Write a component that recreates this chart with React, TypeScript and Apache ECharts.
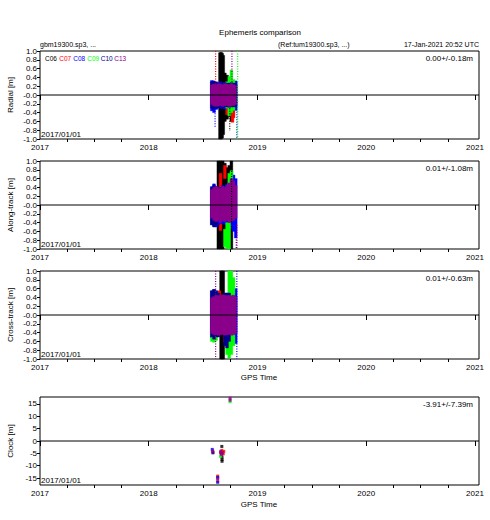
import React, { useEffect, useRef } from 'react';
import * as echarts from 'echarts';

// ---------- axis ticks ----------
const yearTicks = [2017, 2018, 2019, 2020, 2021];
const quarterTicks = [2017.25, 2017.5, 2017.75, 2018.25, 2018.5, 2018.75, 2019.25, 2019.5, 2019.75, 2020.25, 2020.5, 2020.75];
const clockTicks = [-15, -10, -5, 0, 5, 10, 15];

const satNames = ['C06', 'C07', 'C08', 'C09', 'C10', 'C13'];
const satColors = ['#000000', '#ff0000', '#0000ff', '#00ff00', '#00008b', '#8b008b'];

const panelNames = ['Radial [m]', 'Along-track [m]', 'Cross-track [m]', 'Clock [m]'];
const panelStats = ['0.00+/-0.18m', '0.01+/-1.08m', '0.01+/-0.63m', '-3.91+/-7.39m'];

// ---------- Radial: [time(yr), low, high] ----------
const radialC06 = [[2018.655, -1.0, 0.96], [2018.665, -1.0, 0.97], [2018.675, -0.98, 0.95], [2018.685, -0.9, 0.9], [2018.70, -0.6, 0.5], [2018.72, -0.55, 0.45], [2018.74, -0.5, 0.33], [2018.76, -0.6, 0.3]];
const radialC07 = [[2018.72, -0.45, 0.2], [2018.77, -0.62, 0.2], [2018.78, -0.52, 0.2]];
const radialC08 = [[2018.58, -0.36, 0.33], [2018.60, -0.4, 0.32], [2018.62, -0.33, 0.3], [2018.64, -0.3, 0.28], [2018.66, -0.3, 0.3], [2018.68, -0.3, 0.28], [2018.70, -0.32, 0.28], [2018.72, -0.3, 0.3], [2018.74, -0.32, 0.28], [2018.76, -0.3, 0.3], [2018.78, -0.3, 0.3], [2018.80, -0.35, 0.32]];
const radialC09 = [[2018.72, -0.3, 0.3], [2018.74, -0.48, 0.42], [2018.76, -0.4, 0.57], [2018.78, -0.35, 0.35]];
const radialC10 = [[2018.58, -0.3, 0.3], [2018.60, -0.32, 0.3], [2018.62, -0.3, 0.28], [2018.64, -0.28, 0.27], [2018.66, -0.27, 0.27], [2018.68, -0.28, 0.27], [2018.70, -0.27, 0.28], [2018.72, -0.27, 0.27], [2018.74, -0.28, 0.27], [2018.76, -0.27, 0.28], [2018.78, -0.27, 0.27], [2018.80, -0.26, 0.26]];
const radialC13 = [[2018.58, -0.22, 0.23], [2018.60, -0.25, 0.25], [2018.62, -0.26, 0.24], [2018.64, -0.25, 0.26], [2018.66, -0.24, 0.25], [2018.68, -0.26, 0.24], [2018.70, -0.25, 0.26], [2018.72, -0.24, 0.25], [2018.74, -0.26, 0.24], [2018.76, -0.25, 0.26], [2018.78, -0.24, 0.24], [2018.80, -0.22, 0.22]];
// sparse dotted spikes: [sat, time, low, high]
const radialDots = [['C07', 2018.615, 0.25, 1.0], ['C08', 2018.61, -0.75, -0.3], ['C08', 2018.81, -1.0, 0.3], ['C09', 2018.818, -1.0, 1.0], ['C13', 2018.765, 0.25, 1.0], ['C06', 2018.745, -0.82, -0.3]];

// ---------- Along-track ----------
const alongC06 = [[2018.64, -1.0, 1.0], [2018.66, -1.0, 1.0], [2018.68, -1.0, 1.0], [2018.70, -0.9, 0.95], [2018.72, -0.8, 0.85], [2018.74, -0.9, 0.9], [2018.76, -1.0, 1.0]];
const alongC07 = [[2018.66, 0.4, 0.72], [2018.66, -0.58, -0.3], [2018.70, 0.6, 0.9]];
const alongC08 = [[2018.58, -0.45, 0.42], [2018.60, -0.48, 0.48], [2018.62, -0.5, 0.42], [2018.64, -0.45, 0.4], [2018.66, -0.42, 0.4], [2018.68, -0.42, 0.44], [2018.70, -0.44, 0.42], [2018.72, -0.45, 0.48], [2018.74, -0.5, 0.5], [2018.76, -0.55, 0.62], [2018.78, -0.6, 0.68], [2018.80, -0.75, 0.6]];
const alongC09 = [[2018.70, -0.95, -0.55], [2018.72, -0.98, -0.4], [2018.74, -1.0, -0.4], [2018.74, 0.38, 0.72], [2018.76, 0.4, 0.78]];
const alongC10 = [[2018.58, -0.45, 0.4], [2018.60, -0.5, 0.45], [2018.62, -0.45, 0.4]];
const alongC13 = [[2018.58, -0.3, 0.35], [2018.60, -0.35, 0.4], [2018.62, -0.38, 0.42], [2018.64, -0.35, 0.4], [2018.66, -0.4, 0.38], [2018.68, -0.36, 0.42], [2018.70, -0.38, 0.4], [2018.72, -0.35, 0.45], [2018.74, -0.4, 0.5], [2018.76, -0.38, 0.6], [2018.78, -0.35, 0.55], [2018.80, -0.3, 0.45]];
const alongDots = [['C07', 2018.812, -1.0, -0.45], ['C08', 2018.805, -1.0, -0.5], ['C06', 2018.762, -1.0, 1.0]];

// ---------- Cross-track ----------
const crossC06 = [[2018.665, -1.0, 1.0], [2018.675, -1.0, 1.0], [2018.685, -1.0, 1.0]];
const crossC07 = [[2018.65, 0.45, 0.55], [2018.70, -0.62, -0.45]];
const crossC08 = [[2018.58, -0.52, 0.55], [2018.60, -0.55, 0.58], [2018.62, -0.5, 0.55], [2018.78, -0.6, 0.55], [2018.80, -0.65, 0.6]];
const crossC09 = [[2018.58, -0.6, -0.3], [2018.60, -0.62, -0.3], [2018.62, -0.58, -0.3], [2018.72, -0.9, 0.5], [2018.74, -0.98, 1.0], [2018.76, -0.9, 1.0], [2018.78, -0.7, 0.85]];
const crossC10 = [[2018.58, -0.5, 0.55], [2018.60, -0.55, 0.58], [2018.62, -0.5, 0.55], [2018.64, -0.5, 0.5], [2018.70, -0.7, 0.5], [2018.72, -0.75, 0.5], [2018.74, -0.6, 0.5]];
const crossC13 = [[2018.58, -0.42, 0.4], [2018.60, -0.45, 0.42], [2018.62, -0.45, 0.45], [2018.64, -0.46, 0.44], [2018.66, -0.45, 0.45], [2018.68, -0.44, 0.46], [2018.70, -0.46, 0.45], [2018.72, -0.45, 0.44], [2018.74, -0.44, 0.45], [2018.76, -0.46, 0.44], [2018.78, -0.45, 0.45], [2018.80, -0.42, 0.42]];
const crossDots = [['C13', 2018.615, -1.0, 1.0], ['C08', 2018.81, -1.0, 1.0]];

// ---------- Clock: [time, value] ----------
const clockC06 = [[2018.672, -2.2], [2018.674, -6.5], [2018.674, -7.5], [2018.674, -8.2]];
const clockC07 = [[2018.59, -4.5], [2018.672, -3.8], [2018.68, -4.5], [2018.685, -5.2], [2018.66, -4.6], [2018.668, -5.6], [2018.69, -4.2], [2018.634, -14.2], [2018.634, -16.2]];
const clockC08 = [[2018.584, -3.4], [2018.634, -14.7], [2018.634, -16.7]];
const clockC09 = [[2018.66, -6.2], [2018.748, 15.9]];
const clockC10 = [[2018.59, -4.8]];
const clockC13 = [[2018.588, -4.0], [2018.662, -4.2], [2018.665, -5.0], [2018.67, -5.4], [2018.675, -4.8], [2018.634, -15.2], [2018.748, 16.5], [2018.748, 17.3]];

const bandPanels = [
  { bands: [radialC06, radialC07, radialC08, radialC09, radialC10, radialC13], dots: radialDots },
  { bands: [alongC06, alongC07, alongC08, alongC09, alongC10, alongC13], dots: alongDots },
  { bands: [crossC06, crossC07, crossC08, crossC09, crossC10, crossC13], dots: crossDots },
];
const clockSeries = [clockC06, clockC07, clockC08, clockC09, clockC10, clockC13];

const X_MIN = 2017;
const X_MAX = 2021.037;
const FONT = '"Liberation Sans", Arial, Helvetica, sans-serif';
const gridTops = [51, 161, 271, 397];
const GRID_LEFT = 40;
const GRID_W = 439;
const GRID_H = 88;

export default function App() {
  const ref = useRef<HTMLDivElement>(null);
  useEffect(() => {
    if (!ref.current) return;
    const chart = echarts.init(ref.current, null, { renderer: 'svg' });

    const grids = gridTops.map((top) => ({
      left: GRID_LEFT, top, width: GRID_W, height: GRID_H,
      show: true, borderColor: '#000', borderWidth: 1, backgroundColor: 'transparent',
    }));

    const xAxes: any[] = [];
    gridTops.forEach((_, i) => {
      xAxes.push({
        gridIndex: i, type: 'value', min: X_MIN, max: X_MAX, position: 'bottom',
        axisLine: { show: false }, splitLine: { show: false },
        axisTick: { show: true, length: 5, customValues: yearTicks, lineStyle: { color: '#000' } },
        axisLabel: { customValues: yearTicks, fontSize: 8, color: '#000', margin: 4, fontFamily: FONT, formatter: (v: number) => String(Math.round(v)) },
      });
      xAxes.push({
        gridIndex: i, type: 'value', min: X_MIN, max: X_MAX, position: 'bottom',
        axisLine: { show: false }, splitLine: { show: false },
        axisTick: { show: true, length: 3, customValues: quarterTicks, lineStyle: { color: '#000' } },
        axisLabel: { show: false },
      });
    });

    const yAxes: any[] = [0, 1, 2].map((i) => ({
      gridIndex: i, type: 'value', min: -1, max: 1, interval: 0.2,
      axisLine: { show: false }, splitLine: { show: false },
      axisTick: { show: true, length: 3, lineStyle: { color: '#000' } },
      axisLabel: {
        fontSize: 8, color: '#000', margin: 3, fontFamily: FONT,
        formatter: (v: number) => (Math.abs(v) < 1e-9 ? '-0.0' : v.toFixed(1)),
      },
    }));
    yAxes.push({
      gridIndex: 3, type: 'value', min: -17.8, max: 17.8,
      axisLine: { show: false }, splitLine: { show: false },
      axisTick: { show: true, length: 3, customValues: clockTicks, lineStyle: { color: '#000' } },
      axisLabel: { customValues: clockTicks, fontSize: 8, color: '#000', margin: 3, fontFamily: FONT, formatter: (v: number) => String(v) },
    });

    const series: any[] = [];
    bandPanels.forEach((p, gi) => {
      p.bands.forEach((data, si) => {
        const color = satColors[si];
        series.push({
          type: 'custom', name: satNames[si], xAxisIndex: gi * 2, yAxisIndex: gi, silent: true,
          data, encode: { x: 0, y: [1, 2] },
          renderItem: (_params: any, api: any) => {
            const t = api.value(0), lo = api.value(1), hi = api.value(2);
            const a = api.coord([t - 0.01, hi]);
            const b = api.coord([t + 0.01, lo]);
            return { type: 'rect', shape: { x: a[0] - 0.3, y: a[1], width: b[0] - a[0] + 0.6, height: b[1] - a[1] }, style: { fill: color, stroke: color, lineWidth: 0.4 } };
          },
        });
      });
      satNames.forEach((sat, si) => {
        const d = p.dots.filter((r) => r[0] === sat).map((r) => [r[1], r[2], r[3]]);
        if (!d.length) return;
        const color = satColors[si];
        series.push({
          type: 'custom', xAxisIndex: gi * 2, yAxisIndex: gi, silent: true,
          data: d, encode: { x: 0, y: [1, 2] },
          renderItem: (_params: any, api: any) => {
            const t = api.value(0), lo = api.value(1), hi = api.value(2);
            const a = api.coord([t, hi]);
            const b = api.coord([t, lo]);
            return { type: 'line', shape: { x1: a[0], y1: a[1], x2: b[0], y2: b[1] }, style: { stroke: color, lineWidth: 1.2, lineDash: [1, 1.5] } };
          },
        });
      });
    });
    clockSeries.forEach((data, si) => {
      series.push({
        type: 'scatter', xAxisIndex: 6, yAxisIndex: 3, silent: true, data,
        symbol: 'rect', symbolSize: 3, itemStyle: { color: satColors[si] },
      });
    });
    gridTops.forEach((_, gi) => {
      series.push({
        type: 'line', xAxisIndex: gi * 2, yAxisIndex: gi, silent: true,
        data: [[X_MIN, 0], [X_MAX, 0]], symbol: 'none',
        lineStyle: { color: '#000', width: 1 },
      });
    });

    const txt = (text: string, x: number, y: number, align: string, size: number, fill = '#000', rotation = 0) => ({
      type: 'text', x, y, rotation, silent: true,
      style: { text, fill, font: `${size}px ${FONT}`, align, verticalAlign: 'middle' },
    });

    const graphic: any[] = [
      txt('Ephemeris comparison', 260, 32, 'center', 8),
      txt('gbm19300.sp3, ...', 40, 44, 'left', 7),
      txt('(Ref:tum19300.sp3, ...)', 278, 44, 'left', 7),
      txt('17-Jan-2021 20:52 UTC', 479, 44, 'right', 7),
      txt('GPS Time', 259, 377, 'center', 8),
      txt('GPS Time', 259, 504, 'center', 8),
    ];
    const legendX = [45, 59.3, 73.3, 87.3, 100.7, 114.3];
    satNames.forEach((s, i) => graphic.push(txt(s, legendX[i], 58.5, 'left', 6.5, satColors[i])));
    gridTops.forEach((top, i) => {
      graphic.push(txt(panelStats[i], 473, top + 7, 'right', 8));
      graphic.push(txt('2017/01/01', 41, top + GRID_H - 4.5, 'left', 8));
      graphic.push(txt(panelNames[i], 10, top + GRID_H / 2, 'center', 8, '#000', Math.PI / 2));
    });

    chart.setOption({
      animation: false,
      backgroundColor: '#fff',
      grid: grids,
      xAxis: xAxes,
      yAxis: yAxes,
      series,
      graphic,
    });
    return () => chart.dispose();
  }, []);

  return <div ref={ref} style={{ position: 'absolute', left: 0, top: 0, width: 490, height: 520 }} />;
}
